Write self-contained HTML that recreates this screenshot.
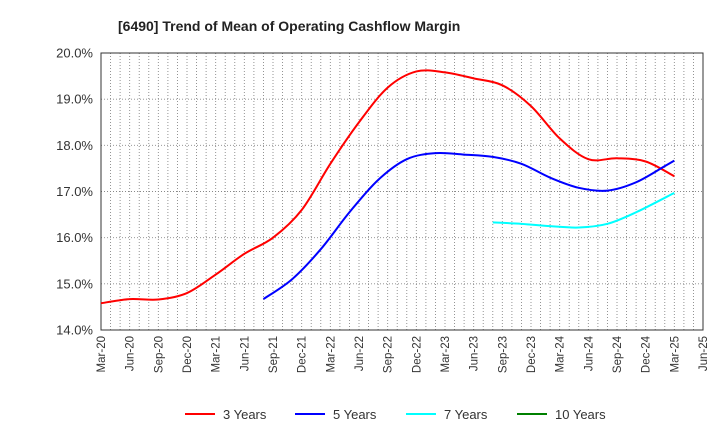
<!DOCTYPE html>
<html><head><meta charset="utf-8"><style>
body{margin:0;background:#fff;font-family:"Liberation Sans",sans-serif}
</style></head><body>
<svg width="720" height="440" id="c" font-family="Liberation Sans, sans-serif">
<text x="118" y="31" font-size="14" font-weight="bold" fill="#222">[6490]  Trend of Mean of Operating Cashflow Margin</text>
<g id="grid"></g><g id="series"></g><g id="legend"></g>
</svg>
<script>
const xLabels=["Mar-20","Jun-20","Sep-20","Dec-20","Mar-21","Jun-21","Sep-21","Dec-21","Mar-22","Jun-22","Sep-22","Dec-22","Mar-23","Jun-23","Sep-23","Dec-23","Mar-24","Jun-24","Sep-24","Dec-24","Mar-25","Jun-25"];
const yTicks=[14,15,16,17,18,19,20];
// month offsets from Mar-20
const m3=[0,3,6,9,12,15,18,21,24,27,30,33,36,39,42,45,48,51,54,57,60];
const v3=[14.58,14.67,14.66,14.8,15.2,15.65,16.0,16.6,17.6,18.5,19.25,19.6,19.58,19.45,19.3,18.85,18.15,17.7,17.72,17.65,17.33];
const m5=[17,20,23,26,29,32,35,38,41,44,47,50,53,56,59,60];
const v5=[14.67,15.1,15.75,16.55,17.25,17.7,17.83,17.8,17.75,17.6,17.3,17.08,17.02,17.2,17.55,17.67];
const m7=[41,44,47,50,53,56,60];
const v7=[16.33,16.3,16.25,16.22,16.3,16.55,16.97];
const m10=[];const v10=[];
const X0=101,X1=703,Y0=330,Y1=53;
const xs=m=>X0+m*(X1-X0)/63;
const ys=v=>Y0-(v-14)*(Y0-Y1)/6;
const NS="http://www.w3.org/2000/svg";
function mk(t,a,p){const e=document.createElementNS(NS,t);for(const k in a)e.setAttribute(k,a[k]);p.appendChild(e);return e;}
const g=document.getElementById('grid');
for(let m=1;m<63;m++){const l=mk('line',{x1:xs(m),x2:xs(m),y1:Y1,y2:Y0,stroke:'#888','stroke-dasharray':'1,2','stroke-width':0.9},g);

}
yTicks.forEach(v=>{const l=mk('line',{x1:X0,x2:X1,y1:ys(v),y2:ys(v),stroke:'#888','stroke-dasharray':'1,2','stroke-width':0.9},g);


const t=mk('text',{x:X0-8,y:ys(v)+4.5,'text-anchor':'end','font-size':13,fill:'#333'},g);t.textContent=v.toFixed(1)+'%';

});
xLabels.forEach((s,i)=>{const x=xs(i*3);const t=mk('text',{transform:`translate(${x+4},${Y0+6}) rotate(-90)`,'text-anchor':'end','font-size':11.5,fill:'#333'},g);t.textContent=s;

});
const fr=mk('rect',{x:X0,y:Y1,width:X1-X0,height:Y0-Y1,fill:'none',stroke:'#333','stroke-width':1},g);


function path(ms,vs){const p=ms.map((m,i)=>[xs(m),ys(vs[i])]);if(!p.length)return'';let d=`M${p[0][0]},${p[0][1]}`;
for(let i=0;i<p.length-1;i++){const a=p[i-1]||p[i],b=p[i],c=p[i+1],e=p[i+2]||c;
d+=` C${b[0]+(c[0]-a[0])/6},${b[1]+(c[1]-a[1])/6} ${c[0]-(e[0]-b[0])/6},${c[1]-(e[1]-b[1])/6} ${c[0]},${c[1]}`;}return d;}
const sg=document.getElementById('series');
[[m3,v3,'#ff0000','line-3-years'],[m5,v5,'#0000ff','line-5-years'],[m7,v7,'#00ffff','line-7-years'],[m10,v10,'#008000','line-10-years']].forEach(s=>{
if(!s[0].length)return;const e=mk('path',{d:path(s[0],s[1]),fill:'none',stroke:s[2],'stroke-width':2},sg);

});
const lg=document.getElementById('legend');
[['3 Years','#ff0000',185],['5 Years','#0000ff',295],['7 Years','#00ffff',406],['10 Years','#008000',517]].forEach(l=>{
const e=mk('g',{},lg);


mk('line',{x1:l[2],x2:l[2]+30,y1:414,y2:414,stroke:l[1],'stroke-width':2},e);
const t=mk('text',{x:l[2]+38,y:419,'font-size':13,fill:'#333'},e);t.textContent=l[0];});
</script>
</body></html>
